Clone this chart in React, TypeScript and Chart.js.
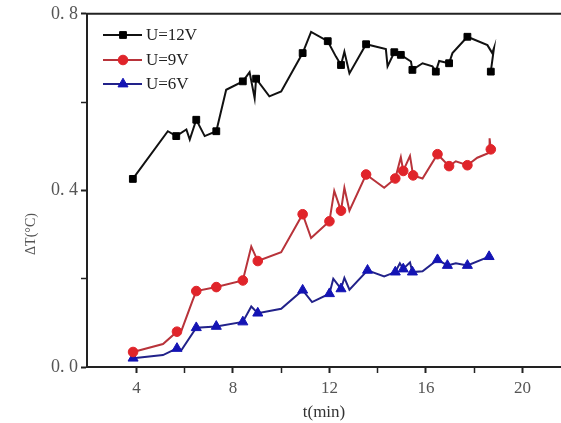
import React, { useEffect, useRef } from "react";
import { Chart, registerables } from "chart.js";

Chart.register(...registerables);

// ---- data (t in min, ΔT in °C) ----
const seriesNames = ["U=12V", "U=9V", "U=6V"];

const line12: [number, number][] = [
  [3.85, 0.426], [5.3, 0.534], [5.65, 0.523], [6.07, 0.538], [6.21, 0.515], [6.48, 0.56],
  [6.83, 0.523], [7.31, 0.534], [7.72, 0.628], [8.41, 0.647], [8.69, 0.668], [8.9, 0.609],
  [8.96, 0.653], [9.51, 0.613], [10.0, 0.624], [10.89, 0.711], [11.24, 0.759], [11.93, 0.738],
  [12.27, 0.703], [12.48, 0.684], [12.62, 0.714], [12.83, 0.665], [13.52, 0.731], [14.34, 0.72],
  [14.41, 0.681], [14.69, 0.713], [14.96, 0.707], [15.38, 0.692], [15.44, 0.673], [15.86, 0.688],
  [16.27, 0.681], [16.41, 0.669], [16.55, 0.693], [16.96, 0.688], [17.1, 0.711], [17.72, 0.748],
  [18.55, 0.729], [18.75, 0.711], [18.82, 0.722], [18.69, 0.669],
];
const marks12: [number, number][] = [
  [3.85, 0.426], [5.65, 0.523], [6.48, 0.56], [7.31, 0.534], [8.41, 0.647], [8.96, 0.653],
  [10.89, 0.711], [11.93, 0.738], [12.48, 0.684], [13.52, 0.731], [14.69, 0.713], [14.96, 0.707],
  [15.44, 0.673], [16.41, 0.669], [16.96, 0.688], [17.72, 0.748], [18.69, 0.669],
];

const line9: [number, number][] = [
  [3.86, 0.034], [5.1, 0.052], [5.68, 0.08], [5.87, 0.083], [6.33, 0.151], [6.48, 0.172],
  [7.31, 0.181], [8.41, 0.196], [8.76, 0.273], [9.03, 0.24], [10.0, 0.26], [10.89, 0.346],
  [11.24, 0.292], [12.0, 0.33], [12.2, 0.399], [12.48, 0.354], [12.62, 0.406], [12.83, 0.354],
  [13.52, 0.436], [14.27, 0.406], [14.73, 0.427], [14.96, 0.475], [15.06, 0.444], [15.34, 0.478],
  [15.47, 0.434], [15.86, 0.427], [16.48, 0.482], [16.96, 0.455], [17.24, 0.466], [17.72, 0.457],
  [18.13, 0.474], [18.62, 0.485], [18.64, 0.518], [18.69, 0.493],
];
const marks9: [number, number][] = [
  [3.86, 0.034], [5.68, 0.08], [6.48, 0.172], [7.31, 0.181], [8.41, 0.196], [9.03, 0.24],
  [10.89, 0.346], [12.0, 0.33], [12.48, 0.354], [13.52, 0.436], [14.73, 0.427], [15.06, 0.444],
  [15.47, 0.434], [16.48, 0.482], [16.96, 0.455], [17.72, 0.457], [18.69, 0.493],
];

const line6: [number, number][] = [
  [3.86, 0.02], [5.1, 0.027], [5.68, 0.042], [5.86, 0.038], [6.48, 0.089], [7.31, 0.092],
  [8.41, 0.102], [8.76, 0.137], [9.03, 0.122], [10.0, 0.132], [10.89, 0.174], [11.28, 0.147],
  [12.0, 0.166], [12.16, 0.2], [12.48, 0.177], [12.62, 0.202], [12.83, 0.175], [13.58, 0.219],
  [14.27, 0.205], [14.73, 0.215], [14.92, 0.235], [15.06, 0.222], [15.34, 0.237], [15.44, 0.215],
  [15.86, 0.217], [16.48, 0.243], [16.89, 0.23], [17.24, 0.235], [17.72, 0.23], [18.62, 0.25],
];
const marks6: [number, number][] = [
  [3.86, 0.02], [5.68, 0.042], [6.48, 0.089], [7.31, 0.092], [8.41, 0.102], [9.03, 0.122],
  [10.89, 0.174], [12.0, 0.166], [12.48, 0.177], [13.58, 0.219], [14.73, 0.215], [15.06, 0.222],
  [15.44, 0.215], [16.48, 0.243], [16.89, 0.23], [17.72, 0.23], [18.62, 0.25],
];

const xMajorTicks = [4, 8, 12, 16, 20];
const yMajorTicks = [0, 0.4, 0.8];
const yTitle = "ΔT(°C)";
const xTitle = "t(min)";

const FONT = "'Liberation Serif', 'Times New Roman', serif";

const styles = [
  { line: "#111111", mark: "#000000", shape: "rect", r: 4.8 },
  { line: "#b8333a", mark: "#e0242a", shape: "circle", r: 4.8 },
  { line: "#22228a", mark: "#1414b4", shape: "triangle", r: 5.8 },
];

const toPts = (a: [number, number][]) => a.map(([x, y]) => ({ x, y }));

function drawMarker(ctx: CanvasRenderingContext2D, shape: string, x: number, y: number, r: number) {
  ctx.beginPath();
  if (shape === "rect") {
    const s = r * Math.SQRT1_2 * 2;
    ctx.rect(x - s / 2, y - s / 2, s, s);
  } else if (shape === "circle") {
    ctx.arc(x, y, r, 0, Math.PI * 2);
  } else {
    ctx.moveTo(x, y - r);
    ctx.lineTo(x + r * 0.866, y + r * 0.5);
    ctx.lineTo(x - r * 0.866, y + r * 0.5);
    ctx.closePath();
  }
  ctx.fill();
  ctx.stroke();
}

export default function App() {
  const ref = useRef<HTMLCanvasElement | null>(null);
  useEffect(() => {
    if (!ref.current) return;
    const lines = [line12, line9, line6];
    const marks = [marks12, marks9, marks6];
    const datasets: any[] = [];
    lines.forEach((l, i) => {
      datasets.push({
        label: seriesNames[i] + " line",
        data: toPts(l),
        borderColor: styles[i].line,
        borderWidth: 2,
        pointRadius: 0,
        showLine: true,
        tension: 0,
        order: 2,
      });
    });
    marks.forEach((m, i) => {
      datasets.push({
        label: seriesNames[i],
        data: toPts(m),
        showLine: false,
        pointStyle: styles[i].shape,
        pointRadius: styles[i].r,
        backgroundColor: styles[i].mark,
        borderColor: styles[i].mark,
        borderWidth: 1,
        order: 1,
      });
    });

    const framePlugin = {
      id: "frame",
      afterDraw(chart: any) {
        const { ctx, chartArea } = chart;
        ctx.save();
        ctx.strokeStyle = "#222";
        ctx.lineWidth = 2;
        ctx.beginPath();
        ctx.moveTo(chartArea.left - 1, chartArea.top);
        ctx.lineTo(chartArea.right, chartArea.top);
        ctx.stroke();
        // y title
        ctx.save();
        ctx.translate(31, 234);
        ctx.rotate(-Math.PI / 2);
        ctx.font = "14px " + FONT;
        ctx.fillStyle = "#555";
        ctx.textAlign = "center";
        ctx.textBaseline = "middle";
        ctx.fillText(yTitle, 0, 0);
        ctx.restore();
        // legend
        const ys = [35, 60, 84];
        ctx.font = "17px " + FONT;
        ctx.textBaseline = "middle";
        seriesNames.forEach((name, i) => {
          const y = ys[i];
          ctx.strokeStyle = styles[i].line;
          ctx.lineWidth = 2;
          ctx.beginPath();
          ctx.moveTo(103, y);
          ctx.lineTo(142, y);
          ctx.stroke();
          ctx.fillStyle = styles[i].mark;
          ctx.strokeStyle = styles[i].mark;
          ctx.lineWidth = 1;
          drawMarker(ctx, styles[i].shape, 123, y, styles[i].r);
          ctx.fillStyle = "#222";
          ctx.fillText(name, 146, y + 1);
        });
        ctx.restore();
      },
    };

    const chart = new Chart(ref.current, {
      type: "scatter",
      data: { datasets },
      plugins: [framePlugin],
      options: {
        animation: false,
        responsive: false,
        layout: { autoPadding: false, padding: { top: 12, right: 0, left: 0, bottom: 0 } },
        plugins: { legend: { display: false }, tooltip: { enabled: false } },
        scales: {
          x: {
            type: "linear",
            min: 1.95,
            max: 21.6,
            afterBuildTicks: (scale: any) => {
              const t: any[] = [];
              for (let v = 4; v <= 20; v += 2) t.push({ value: v });
              scale.ticks = t;
            },
            afterFit: (scale: any) => {
              scale.height = 56;
            },
            ticks: {
              callback: (v: any) => (xMajorTicks.includes(Number(v)) ? String(v) : ""),
              font: { family: FONT, size: 17 },
              color: "#555",
              padding: 5,
              maxRotation: 0,
              autoSkip: false,
            },
            grid: {
              drawOnChartArea: false,
              drawTicks: true,
              tickLength: 6,
              tickColor: "#222",
              tickWidth: (c: any) => (c.tick && xMajorTicks.includes(c.tick.value) ? 2 : 1.5),
            },
            border: { color: "#222", width: 2 },
            title: {
              display: true,
              text: xTitle,
              font: { family: FONT, size: 17 },
              color: "#333",
              padding: { top: 0, bottom: 0 },
            },
          },
          y: {
            type: "linear",
            min: 0,
            max: 0.8,
            afterBuildTicks: (scale: any) => {
              scale.ticks = [0, 0.2, 0.4, 0.6, 0.8].map((v) => ({ value: v }));
            },
            afterFit: (scale: any) => {
              scale.width = 87;
            },
            ticks: {
              callback: (v: any) => {
                const n = Number(v);
                return yMajorTicks.some((m) => Math.abs(m - n) < 1e-6)
                  ? n.toFixed(1).replace(".", ". ")
                  : "";
              },
              font: { family: FONT, size: 18 },
              color: "#555",
              padding: 3,
              autoSkip: false,
            },
            grid: {
              drawOnChartArea: false,
              drawTicks: true,
              tickLength: 6,
              tickColor: "#222",
              tickWidth: (c: any) =>
                c.tick && yMajorTicks.some((m) => Math.abs(m - c.tick.value) < 1e-6) ? 2 : 1.5,
            },
            border: { color: "#222", width: 2 },
          },
        },
      } as any,
    });
    return () => chart.destroy();
  }, []);

  return (
    <div style={{ position: "fixed", left: 0, top: 0, width: 561, height: 423, background: "#fff" }}>
      <canvas ref={ref} width={561} height={423} style={{ width: 561, height: 423 }} />
    </div>
  );
}
